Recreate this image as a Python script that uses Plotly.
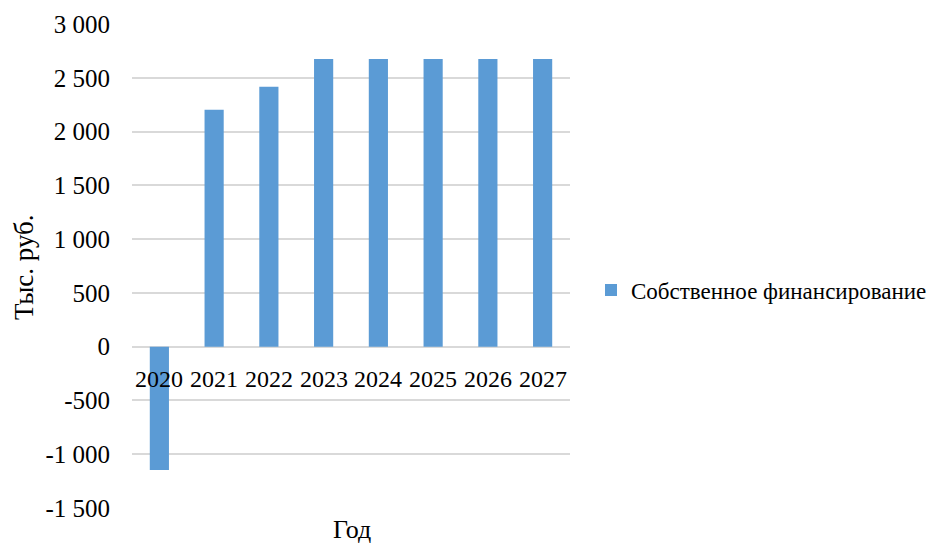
import plotly.graph_objects as go

years = ["2020", "2021", "2022", "2023", "2024", "2025", "2026", "2027"]
values = [-1147, 2202, 2416, 2675, 2675, 2675, 2675, 2675]
series_name = "Собственное финансирование"
y_tickvals = [-1500, -1000, -500, 0, 500, 1000, 1500, 2000, 2500, 3000]
y_ticktext = ["-1 500", "-1 000", "-500", "0", "500", "1 000", "1 500", "2 000", "2 500", "3 000"]

FONT = "Liberation Serif"
L, R, T, B = 132, 363, 24, 36
W, H = 933, 544
pw = W - L - R

fig = go.Figure()
fig.add_trace(go.Bar(x=years, y=values, name=series_name,
                     marker=dict(color="#5b9bd5", line=dict(width=0)),
                     showlegend=True))

annotations = []
for i, yr in enumerate(years):
    # category axes interpret numeric-looking strings as indices, so use the index
    annotations.append(dict(x=i, y=0, xref="x", yref="y", text=yr, showarrow=False,
                            yanchor="middle", yshift=-32,
                            font=dict(family=FONT, size=24, color="#000000")))
annotations.append(dict(x=-(L - 24) / pw, y=(508 - 267) / (H - T - B), xref="paper", yref="paper",
                        text="Тыс. руб.",
                        textangle=-90, showarrow=False, xanchor="center", yanchor="middle",
                        font=dict(family=FONT, size=27, color="#000000")))
annotations.append(dict(x=(352 - L) / pw, y=0, xref="paper", yref="paper", text="Год", showarrow=False,
                        xanchor="center", yanchor="middle", yshift=-21,
                        font=dict(family=FONT, size=26, color="#000000")))

fig.update_layout(
    width=W, height=H,
    margin=dict(l=L, r=R, t=T, b=B, autoexpand=False),
    paper_bgcolor="white", plot_bgcolor="white",
    bargap=0.65,
    font=dict(family=FONT, size=24, color="#000000"),
    xaxis=dict(type="category", categoryorder="array", categoryarray=years,
               range=[-0.5, len(years) - 0.5], automargin=False,
               showticklabels=False, showgrid=False, zeroline=False,
               showline=False, ticks=""),
    yaxis=dict(range=[-1500, 3000], tickvals=y_tickvals, ticktext=y_ticktext, automargin=False,
               showgrid=True, gridcolor="#d9d9d9", gridwidth=1.5,
               zeroline=True, zerolinecolor="#d9d9d9", zerolinewidth=1.5,
               showline=False, ticks="outside", ticklen=16, tickcolor="rgba(0,0,0,0)",
               tickfont=dict(family=FONT, size=25, color="#000000")),
    legend=dict(x=(591 - L) / pw, y=(508 - 290) / (H - T - B), xanchor="left", yanchor="middle",
                font=dict(family=FONT, size=23, color="#000000"), bgcolor="rgba(0,0,0,0)"),
    annotations=annotations,
)

fig.write_html("out.html")
